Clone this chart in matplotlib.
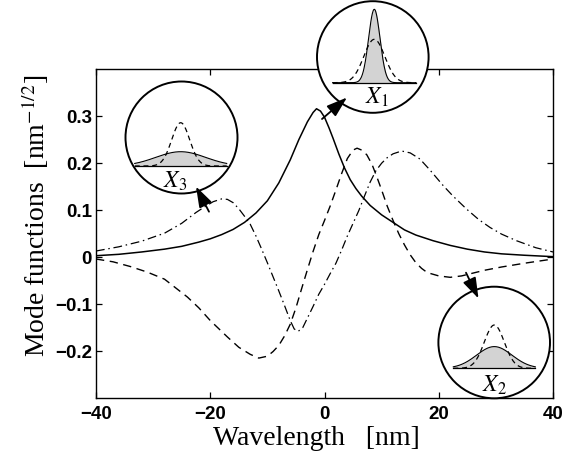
import numpy as np
import matplotlib
matplotlib.use("Agg")
import matplotlib.pyplot as plt
from matplotlib.patches import Circle

plt.rcParams['mathtext.fontset'] = 'stix'

# ---- data ----
solid_x = [-40, -36, -32, -28, -25, -22, -20, -18, -16, -14, -12, -10, -8, -6, -4.5, -3,
           -2, -1.4, -0.7, 0, 0.8, 1.5, 2.5, 3.5, 4.5, 5.5, 6.5, 8, 10, 12, 14, 16, 19,
           22, 25, 28, 31, 35, 40]
solid_y = [0.003, 0.006, 0.011, 0.017, 0.023, 0.032, 0.039, 0.048, 0.059, 0.074, 0.094,
           0.120, 0.158, 0.207, 0.250, 0.288, 0.308, 0.316, 0.311, 0.298, 0.275, 0.253,
           0.220, 0.190, 0.165, 0.146, 0.130, 0.110, 0.090, 0.074, 0.058, 0.047, 0.035,
           0.025, 0.017, 0.011, 0.007, 0.004, 0.001]

dashed_x = [-40, -37, -34, -31, -28, -26, -24, -22, -20, -17, -15, -13, -11.5, -10, -9,
            -8, -7, -6, -5, -4, -3, -2, -1, 0, 1, 2, 3, 4, 5, 5.7, 6.5, 7.4, 8.3, 9.1,
            10, 11, 12, 13, 14, 15, 16, 17, 18, 20, 22, 24, 26, 28, 31, 35, 40]
dashed_y = [-0.004, -0.010, -0.020, -0.032, -0.047, -0.066, -0.085, -0.108, -0.135,
            -0.170, -0.192, -0.207, -0.215, -0.211, -0.201, -0.188, -0.168, -0.143,
            -0.108, -0.067, -0.027, 0.012, 0.048, 0.078, 0.109, 0.143, 0.178, 0.210,
            0.228, 0.232, 0.228, 0.218, 0.198, 0.173, 0.143, 0.108, 0.078, 0.050, 0.026,
            0.005, -0.012, -0.024, -0.033, -0.040, -0.043, -0.040, -0.034, -0.028,
            -0.021, -0.013, -0.004]

dashdot_x = [-40, -36, -32, -28, -25, -22.5, -21, -19.5, -18, -17, -16, -15, -14, -13,
             -12, -11, -10, -9, -8, -7, -6, -5.3, -4.6, -3.8, -3, -2, -1, 0, 1, 2, 3, 4,
             5, 6, 7, 8, 9, 10, 11, 12, 13.5, 15, 16.7, 18.5, 20.8, 22.5, 24.9, 27, 29,
             31, 33.6, 37, 40]
dashdot_y = [0.013, 0.022, 0.034, 0.051, 0.072, 0.095, 0.107, 0.118, 0.124, 0.123,
             0.116, 0.103, 0.087, 0.070, 0.045, 0.017, -0.012, -0.042, -0.072, -0.103,
             -0.135, -0.153, -0.158, -0.150, -0.130, -0.105, -0.079, -0.058, -0.035,
             -0.013, 0.015, 0.045, 0.072, 0.099, 0.130, 0.160, 0.184, 0.200, 0.212,
             0.220, 0.226, 0.222, 0.209, 0.185, 0.152, 0.130, 0.102, 0.080, 0.063,
             0.049, 0.035, 0.020, 0.011]

xticks = [-40, -20, 0, 20, 40]
xtick_labels = ['\u221240', '\u221220', '0', '20', '40']
yticks = [-0.2, -0.1, 0, 0.1, 0.2, 0.3]
ytick_labels = ['\u22120.2', '\u22120.1', '0', '0.1', '0.2', '0.3']

# inset sketches (figure pixel units, y downward)
inset_labels = [r'$X_{\mathit{1}}$', r'$X_{\mathit{2}}$', r'$X_{\mathit{3}}$']
inset_center = [(372.8, 57.0), (494.2, 342.5), (181.5, 137.5)]
inset_radius = [55.8, 55.8, 56.0]
base_y = [82.7, 368.3, 166.0]
base_half = [41.7, 41.0, 46.0]
pulse_x = [374.3, 494.3, 180.7]
mode_height = [73.4, 21.7, 14.3]
mode_sigma = [5.7, 17.7, 24.8]
input_height = [43.4, 43.3, 43.3]
input_sigma = [10.5, 10.0, 9.0]
label_pos = [(377, 97), (494, 385), (175, 181)]
arrow_tail = [(322, 119), (466, 272.7), (209, 211.7)]
arrow_head = [(347, 97.5), (478.5, 298.5), (196, 186.5)]

W, H = 576, 466
fig = plt.figure(figsize=(W / 100, H / 100), dpi=100)
ax = fig.add_axes([96 / W, 1 - 398 / H, 457 / W, 328.7 / H])

ax.plot(solid_x, solid_y, color='k', lw=1.1)
ax.plot(dashed_x, dashed_y, color='k', lw=1.0, ls=(0, (6, 4)))
ax.plot(dashdot_x, dashdot_y, color='k', lw=0.9, ls=(0, (7, 3, 1.2, 3)))

ax.set_xlim(-40, 40)
ax.set_ylim(-0.3, 0.4)
ax.set_xticks(xticks)
ax.set_xticklabels(xtick_labels)
ax.set_yticks(yticks)
ax.set_yticklabels(ytick_labels)
ax.tick_params(direction='in', top=True, right=True, length=4.5, width=0.9)
ax.tick_params(axis='x', pad=6)
ax.tick_params(axis='y', pad=3)
for lab in ax.get_xticklabels() + ax.get_yticklabels():
    lab.set_fontfamily('Liberation Sans')
    lab.set_fontweight('bold')
    lab.set_fontsize(13.5)
for s in ax.spines.values():
    s.set_linewidth(1.0)

ax.set_xlabel('Wavelength   [nm]', fontfamily='Liberation Serif', fontsize=20)
ax.xaxis.set_label_coords(0.483, -0.085)
ax.set_ylabel('Mode functions  [nm$^{-1/2}$]', fontfamily='Liberation Serif', fontsize=20)
ax.yaxis.set_label_coords(-0.098, 0.553)

# overlay for the inset circles
ov = fig.add_axes([0, 0, 1, 1], zorder=5)
ov.set_xlim(0, W)
ov.set_ylim(H, 0)
ov.axis('off')

for i in range(3):
    cx, cy = inset_center[i]
    ov.add_patch(Circle((cx, cy), inset_radius[i], facecolor='white',
                        edgecolor='k', lw=1.4, zorder=1))
    u = np.linspace(pulse_x[i] - base_half[i], pulse_x[i] + base_half[i], 200)
    mode = base_y[i] - mode_height[i] * np.exp(-0.5 * ((u - pulse_x[i]) / mode_sigma[i]) ** 2)
    inp = base_y[i] - input_height[i] * np.exp(-0.5 * ((u - pulse_x[i]) / input_sigma[i]) ** 2)
    ov.fill_between(u, mode, base_y[i], color='#d3d3d3', lw=0, zorder=2)
    ov.plot(u, mode, color='k', lw=0.8, zorder=3)
    ov.plot(u, inp, color='k', lw=0.9, ls=(0, (4, 3)), zorder=4)
    ov.plot([u[0], u[-1]], [base_y[i], base_y[i]], color='k', lw=0.9, zorder=4)
    ov.text(label_pos[i][0], label_pos[i][1], inset_labels[i], fontsize=17,
            ha='center', va='center', zorder=5)
    ov.annotate('', xy=arrow_head[i], xytext=arrow_tail[i],
                arrowprops=dict(arrowstyle='-|>,head_length=0.9,head_width=0.3',
                                color='k', lw=1.3, shrinkA=0, shrinkB=0,
                                mutation_scale=14), zorder=6)

fig.savefig('out.png', dpi=100)
